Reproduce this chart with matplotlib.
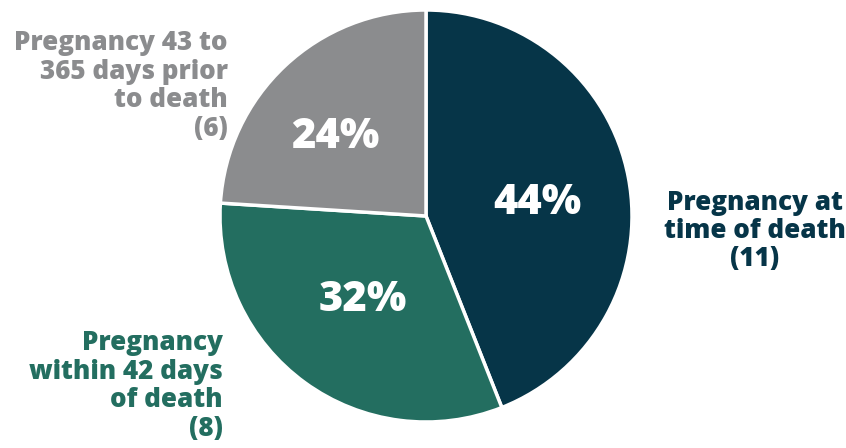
import matplotlib.pyplot as plt

# data
labels = ['Pregnancy at\ntime of death\n(11)',
          'Pregnancy\nwithin 42 days\nof death\n(8)',
          'Pregnancy 43 to\n365 days prior\nto death\n(6)']
counts = [11, 8, 6]
colors = ['#063548', '#236e60', '#8b8c8e']

plt.rcParams['font.family'] = ['Open Sans', 'DejaVu Sans']

fig = plt.figure(figsize=(8.46, 4.48), dpi=100)
ax = fig.add_axes([0, 0, 1, 1])

total = sum(counts)
wedges, texts = ax.pie(counts, colors=colors, startangle=90, counterclock=False,
                       center=(426, 232), radius=206, frame=True,
                       wedgeprops=dict(edgecolor='white', linewidth=2.5))
ax.set_xlim(0, 846)
ax.set_ylim(0, 448)
ax.axis('off')

# percent labels inside the slices
pct_pos = [(537, 245), (363, 148), (335, 311)]
for c, (x, y) in zip(counts, pct_pos):
    ax.text(x, y, '%d%%' % round(100 * c / total), color='white',
            fontsize=30, fontweight=800, ha='center', va='center')

# outside labels
kw = dict(fontsize=18.7, fontweight=800, va='center', linespacing=1.12)
ax.text(755, 217, labels[0], color=colors[0], ha='center', **kw)
ax.text(223, 62, labels[1], color=colors[1], ha='right', **kw)
ax.text(228, 362, labels[2], color=colors[2], ha='right', **kw)

fig.savefig('out.png', dpi=100)
